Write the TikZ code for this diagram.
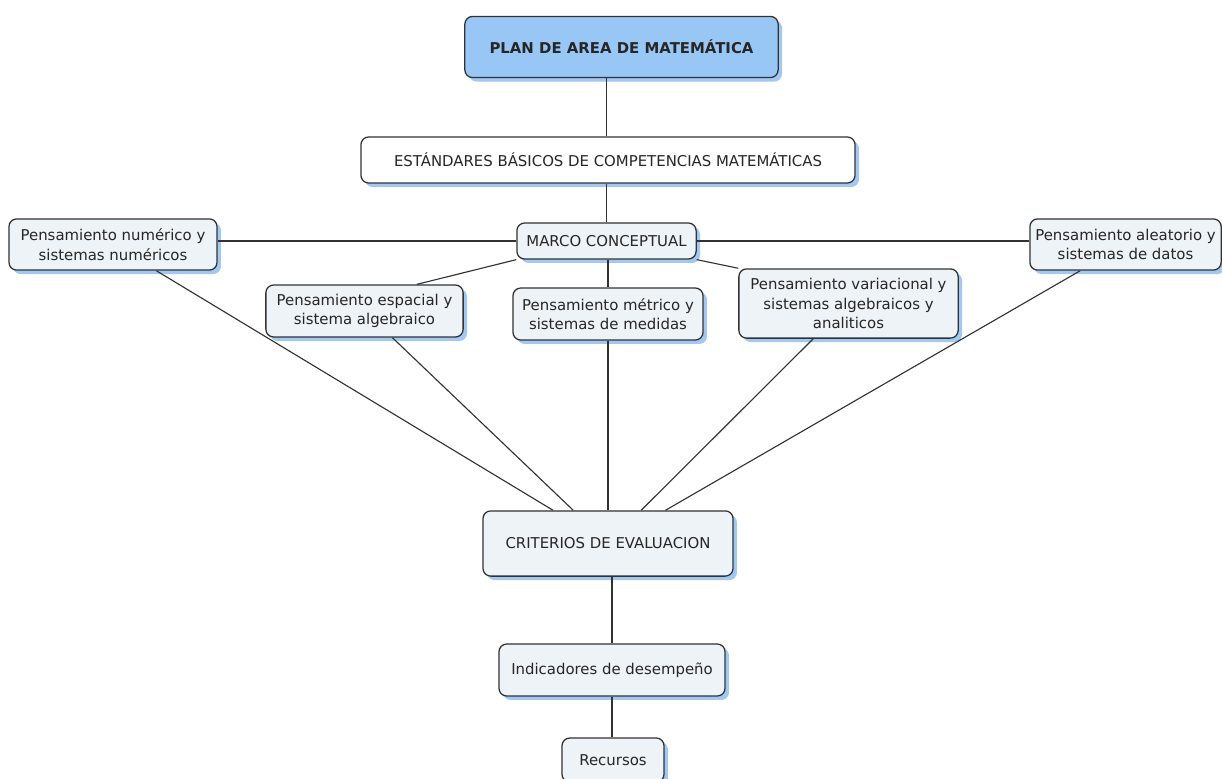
\documentclass[tikz,border=0pt]{standalone}
\usepackage{fontspec}
\setmainfont{DejaVu Sans}
\usetikzlibrary{positioning,shadows}
\definecolor{boxfill}{RGB}{238,243,247}
\definecolor{topfill}{RGB}{153,199,245}
\definecolor{shadeblue}{RGB}{160,200,242}
\definecolor{edgegray}{RGB}{50,50,50}

\begin{document}
\begin{tikzpicture}[x=0.025cm, y=-0.025cm,
    concept/.style={draw=edgegray, line width=0.9pt, rounded corners=5.5pt, fill=boxfill, align=center, inner sep=2pt, text=black!85, font=\fontsize{10.6}{14}\selectfont, drop shadow={fill=shadeblue, opacity=1, shadow xshift=2.8pt, shadow yshift=-2.8pt}},
    root/.style={concept, fill=topfill, font=\fontsize{10.6}{14}\selectfont\bfseries},
    plain/.style={concept, fill=white},
    link/.style={draw=edgegray, line width=0.8pt}]
  \fill[white] (0,0) rectangle (1222,778);
  \useasboundingbox (0,0) rectangle (1222,778);
  \node[root, minimum width=7.83cm, minimum height=1.53cm] (plan) at (621.5,47) {PLAN DE AREA DE MATEMÁTICA};
  \node[plain, minimum width=12.35cm, minimum height=1.15cm] (est) at (608,160) {ESTÁNDARES BÁSICOS DE COMPETENCIAS MATEMÁTICAS};
  \node[concept, minimum width=4.48cm, minimum height=0.9cm] (marco) at (606.5,241) {MARCO CONCEPTUAL};
  \node[concept, minimum width=5.2cm, minimum height=1.28cm] (pnum) at (113,244.5) {Pensamiento numérico y\\sistemas numéricos};
  \node[concept, minimum width=4.93cm, minimum height=1.3cm] (pesp) at (364.5,311) {Pensamiento espacial y\\sistema algebraico};
  \node[concept, minimum width=4.75cm, minimum height=1.3cm] (pmet) at (608,314) {Pensamiento métrico y\\sistemas de medidas};
  \node[concept, minimum width=5.48cm, minimum height=1.73cm] (pvar) at (848.5,303.5) {Pensamiento variacional y\\sistemas algebraicos y\\analiticos};
  \node[concept, minimum width=4.78cm, minimum height=1.28cm] (pale) at (1125.5,244.5) {Pensamiento aleatorio y\\sistemas de datos};
  \node[concept, minimum width=6.25cm, minimum height=1.63cm] (crit) at (608,543.5) {CRITERIOS DE EVALUACION};
  \node[concept, minimum width=5.65cm, minimum height=1.3cm] (ind) at (612,670) {Indicadores de desempeño};
  \node[concept, minimum width=2.55cm, minimum height=1.1cm] (rec) at (613,760) {Recursos};
  \draw[link] (est.north -| marco.north) -- (marco.north |- plan.south);
  \draw[link] (est.south -| marco.north) -- (marco.north);
  \draw[link] (marco.west) -- (marco.west -| pnum.east);
  \draw[link] (marco.east) -- (marco.east -| pale.west);
  \draw[link] (marco.south -| pmet.north) -- (pmet.north);
  \draw[link] (marco.south west) -- (pesp.27);
  \draw[link] (marco.south east) -- (pvar.north west);
  \foreach \n in {pnum, pesp, pmet, pvar, pale} \draw[link] (\n) -- (crit);
  \draw[link] (ind.north |- crit.south) -- (ind.north);
  \draw[link] (ind.south) -- (ind.south |- rec.north);
\end{tikzpicture}
\end{document}
